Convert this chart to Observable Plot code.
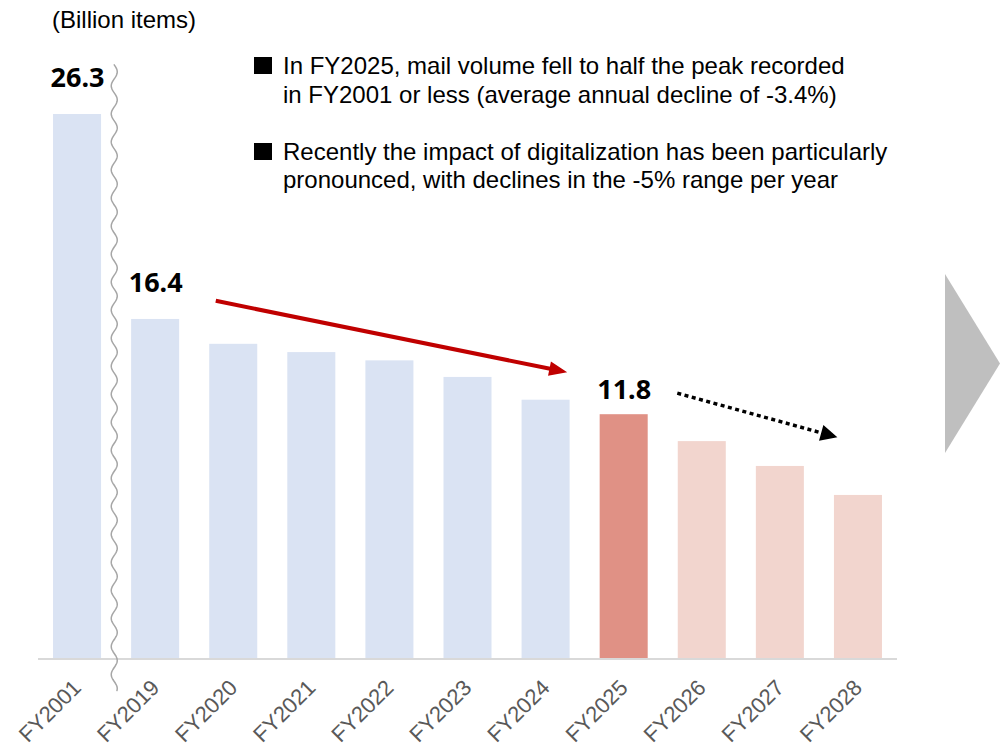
<!DOCTYPE html>
<html>
<head>
<meta charset="utf-8">
<script src="https://cdn.jsdelivr.net/npm/d3@7"></script>
<script src="https://cdn.jsdelivr.net/npm/@observablehq/plot@0.6"></script>
<style>
  body { margin: 0; background: #fff; }
  #wrap { position: relative; width: 1000px; height: 756px; overflow: hidden;
          font-family: "Liberation Sans", Arial, sans-serif; color: #000; }
  #chart { position: absolute; left: 0; top: 0; }
  .unit { position: absolute; left: 52px; top: 6px; font-size: 24px; line-height: 28px; white-space: nowrap; }
  .note { position: absolute; left: 283px; font-size: 24px; line-height: 28px; white-space: nowrap; }
  .sq { position: absolute; left: 254px; width: 18px; height: 17px; background: #000; }
  .tri { position: absolute; left: 945px; top: 274px; width: 55px; height: 179px; background: #bfbfbf;
         clip-path: polygon(0 0, 100% 50%, 0 100%); }
</style>
</head>
<body>
<div id="wrap">
  <div id="chart"></div>
  <div class="unit">(Billion items)</div>
  <div class="sq" style="top:57px"></div>
  <div class="note" style="top:52px">In FY2025, mail volume fell to half the peak recorded</div>
  <div class="note" style="top:81px">in FY2001 or less (average annual decline of -3.4%)</div>
  <div class="sq" style="top:143px"></div>
  <div class="note" style="top:138px">Recently the impact of digitalization has been particularly</div>
  <div class="note" style="top:166px">pronounced, with declines in the -5% range per year</div>
  <div class="tri"></div>
</div>
<script>
// ---- data ----
const years  = ["FY2001","FY2019","FY2020","FY2021","FY2022","FY2023","FY2024","FY2025","FY2026","FY2027","FY2028"];
const volume = [26.3, 16.4, 15.2, 14.8, 14.4, 13.6, 12.5, 11.8, 10.5, 9.3, 7.9];
const kinds  = ["actual","actual","actual","actual","actual","actual","actual","current","forecast","forecast","forecast"];
const kindNames  = ["actual","current","forecast"];
const kindColors = ["#dae3f3","#e09185","#f2d5ce"];
// annotated values
const labelPeak = ["FY2001","FY2019"];
const labelNow  = ["FY2025"];
// trend arrows (x in category index units, y in billion items)
const redArrow = [{x1: 1.77, y1: 17.3, x2: 6.27, y2: 13.85}];
const dotArrow = [{x1: 7.68, y1: 12.84, x2: 9.73, y2: 10.71}];

const rows = years.map((y, i) => ({i, year: y, value: volume[i], kind: kinds[i]}));

// axis-break squiggle between FY2001 and FY2019 (decoration)
const breakWave = d3.range(0, 626).map(k => ({
  x: 0.47 + 0.0384 * Math.sin(2 * Math.PI * k / 28),
  y: 28.7 - k / 20.68
}));

const shaft = (a, f) => a.map(d => ({x1: d.x1, y1: d.y1, x2: d.x1 + (d.x2 - d.x1) * f, y2: d.y1 + (d.y2 - d.y1) * f}));

const half = 0.3075;
const plot = Plot.plot({
  width: 1000,
  height: 756,
  marginLeft: 38,
  marginRight: 103,
  marginTop: 114,
  marginBottom: 97.5,
  style: {fontFamily: "'Liberation Sans', Arial, sans-serif", background: "transparent"},
  x: {domain: [-0.5, years.length - 0.5]},
  y: {domain: [0, 26.3], axis: null},
  color: {domain: kindNames, range: kindColors},
  marks: [
    Plot.rectY(rows, {x1: d => d.i - half, x2: d => d.i + half, y: "value", fill: "kind"}),
    Plot.ruleY([0], {stroke: "#d9d9d9", strokeWidth: 2}),
    Plot.axisX(d3.range(years.length), {
      tickFormat: i => years[i], tickRotate: -45, tickSize: 0, tickPadding: 25,
      fontSize: 22, color: "#595959", fontFamily: "'Liberation Sans', Arial, sans-serif"
    }),
    Plot.line(breakWave, {x: "x", y: "y", stroke: "#a6a6a6", strokeWidth: 1.5, curve: "linear"}),
    Plot.text(rows.filter(d => labelPeak.includes(d.year)), {
      x: "i", y: "value", text: d => d.value.toFixed(1), dy: -36,
      fontSize: 27, fontWeight: "bold", fontFamily: "'Noto Sans', sans-serif", fill: "#000"
    }),
    Plot.text(rows.filter(d => labelNow.includes(d.year)), {
      x: "i", y: "value", text: d => d.value.toFixed(1), dy: -24,
      fontSize: 27, fontWeight: "bold", fontFamily: "'Noto Sans', sans-serif", fill: "#000"
    }),
    // red solid trend arrow
    Plot.link(shaft(redArrow, 0.962), {x1: "x1", y1: "y1", x2: "x2", y2: "y2",
      stroke: "#c00000", strokeWidth: 4, strokeLinecap: "butt"}),
    Plot.arrow(redArrow, {x1: "x1", y1: "y1", x2: "x2", y2: "y2",
      stroke: "none", fill: "#c00000", strokeWidth: 4, headLength: 7.3, headAngle: 44}),
    // dotted forecast arrow
    Plot.link(shaft(dotArrow, 0.91), {x1: "x1", y1: "y1", x2: "x2", y2: "y2",
      stroke: "#000", strokeWidth: 3.5, strokeDasharray: "4,3.5", strokeLinecap: "butt"}),
    Plot.arrow(dotArrow, {x1: "x1", y1: "y1", x2: "x2", y2: "y2",
      stroke: "none", fill: "#000", strokeWidth: 3.5, headLength: 8, headAngle: 52})
  ]
});
document.getElementById("chart").appendChild(plot);
</script>
</body>
</html>
